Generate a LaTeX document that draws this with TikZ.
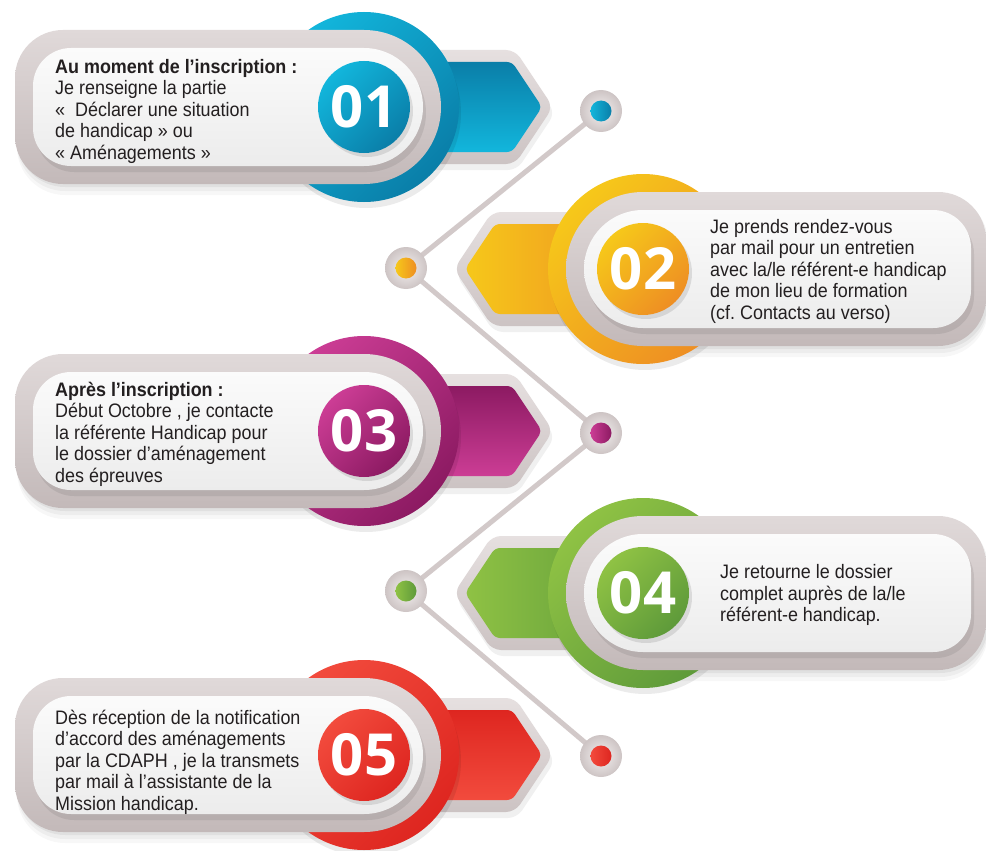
\documentclass[tikz,border=0pt]{standalone}
\usepackage{fontspec}
\setmainfont{Liberation Sans}[FakeStretch=0.92]
\newfontfamily\numfont{Open Sans}
\frenchspacing
\definecolor{grayA}{HTML}{E0D9D9}
\definecolor{grayB}{HTML}{C3B9B9}
\definecolor{tabA}{HTML}{E6E0E0}
\definecolor{tabB}{HTML}{CCC3C3}
\definecolor{whiteA}{HTML}{FBFBFB}
\definecolor{whiteB}{HTML}{ECECEC}
\definecolor{lineg}{HTML}{D2C9C9}
\definecolor{dotA}{HTML}{F4F1F1}
\definecolor{dotB}{HTML}{CDC4C4}
\definecolor{txtc}{HTML}{231F20}
\definecolor{blueL}{HTML}{12B6DC}
\definecolor{blueD}{HTML}{0A7EA8}
\definecolor{oranL}{HTML}{F6C81A}
\definecolor{oranD}{HTML}{EE8E23}
\definecolor{magL}{HTML}{CC3D95}
\definecolor{magD}{HTML}{8C1A62}
\definecolor{greL}{HTML}{8FC244}
\definecolor{greD}{HTML}{5E9A3A}
\definecolor{redL}{HTML}{F24B3D}
\definecolor{redD}{HTML}{DE2620}
\newcommand\grayLpath{(0,-77) arc[start angle=-90,end angle=90,radius=77] -- (-301,77) arc[start angle=90,end angle=180,radius=48] -- (-349,-29) arc[start angle=180,end angle=270,radius=48] -- cycle}
\newcommand\whiteLpath{(0,-59) arc[start angle=-90,end angle=90,radius=59] -- (-293,59) arc[start angle=90,end angle=180,radius=38] -- (-331,-21) arc[start angle=180,end angle=270,radius=38] -- cycle}
\newcommand\grayRpath{(0,-77) arc[start angle=270,end angle=90,radius=77] -- (295,77) arc[start angle=90,end angle=0,radius=48] -- (343,-29) arc[start angle=0,end angle=-90,radius=48] -- cycle}
\newcommand\whiteRpath{(0,-59) arc[start angle=270,end angle=90,radius=59] -- (290,59) arc[start angle=90,end angle=0,radius=38] -- (328,-21) arc[start angle=0,end angle=-90,radius=38] -- cycle}
\newcommand\itemL[3]{%
\begin{scope}[shift={(364,#1)}]
 \foreach \o/\op in {3/0.05,7/0.04,11/0.03}{\fill[black,opacity=\op,shift={(2,\o)}] \grayLpath;}
 \fill[black,opacity=0.06,shift={(2,6)},rounded corners=9] (0,-57) -- (151,-57) -- (189,0) -- (151,57) -- (0,57) -- cycle;
 \shade[top color=tabA,bottom color=tabB,rounded corners=9] (0,-57) -- (151,-57) -- (189,0) -- (151,57) -- (0,57) -- cycle;
 \shade[top color=#3,bottom color=#2,rounded corners=5] (0,-45) -- (148,-45) -- (178,0) -- (148,45) -- (0,45) -- cycle;
 \fill[black,opacity=0.08,shift={(2,6)}] (0,0) circle[radius=95];
 \shade[top color=#2,bottom color=#3,shading angle=45] (0,0) circle[radius=95];
 \shade[top color=grayA,bottom color=grayB] \grayLpath;
 \fill[black,opacity=0.08,shift={(3,6)}] \whiteLpath;
 \shade[top color=whiteA,bottom color=whiteB] \whiteLpath;
 \fill[black,opacity=0.10,shift={(3,4)}] (0,0) circle[radius=46];
 \shade[top color=#2,bottom color=#3,shading angle=45] (0,0) circle[radius=46];
\end{scope}}
\newcommand\itemR[3]{%
\begin{scope}[shift={(643,#1)}]
 \foreach \o/\op in {3/0.05,7/0.04,11/0.03}{\fill[black,opacity=\op,shift={(2,\o)}] \grayRpath;}
 \fill[black,opacity=0.06,shift={(2,6)},rounded corners=9] (0,-57) -- (-151,-57) -- (-189,0) -- (-151,57) -- (0,57) -- cycle;
 \shade[top color=tabA,bottom color=tabB,rounded corners=9] (0,-57) -- (-151,-57) -- (-189,0) -- (-151,57) -- (0,57) -- cycle;
 \shade[left color=#2,right color=#3,rounded corners=5] (0,-45) -- (-148,-45) -- (-178,0) -- (-148,45) -- (0,45) -- cycle;
 \fill[black,opacity=0.08,shift={(2,6)}] (0,0) circle[radius=95];
 \shade[top color=#2,bottom color=#3,shading angle=45] (0,0) circle[radius=95];
 \shade[top color=grayA,bottom color=grayB] \grayRpath;
 \fill[black,opacity=0.08,shift={(3,6)}] \whiteRpath;
 \shade[top color=whiteA,bottom color=whiteB] \whiteRpath;
 \fill[black,opacity=0.10,shift={(3,4)}] (0,0) circle[radius=46];
 \shade[top color=#2,bottom color=#3,shading angle=45] (0,0) circle[radius=46];
\end{scope}}
\tikzset{
  numtxt/.style={text=white,font=\numfont\bfseries\fontsize{58}{58}\selectfont,inner sep=0pt},
  bodytxt/.style={text=txtc,font=\fontsize{19.5}{21.5}\selectfont,align=left,anchor=west,inner sep=0pt},
  conn/.style={draw=lineg,line width=5pt},
  dotring/.style={circle,minimum size=42pt,inner sep=0pt,inner color=dotA,outer color=dotB},
  dotcore/.style={circle,minimum size=21pt,inner sep=0pt}
}
\begin{document}
\begin{tikzpicture}[x=1pt,y=-1pt]
\useasboundingbox (0,0) rectangle (986,851);
\fill[white] (0,0) rectangle (986,851);
% connector coordinates
\coordinate (c1) at (601,111);
\coordinate (c2) at (406,268);
\coordinate (c3) at (601,433);
\coordinate (c4) at (406,591);
\coordinate (c5) at (601,756);
\draw[conn] (c1) -- (c2) -- (c3) -- (c4) -- (c5);
% items
\itemL{107}{blueL}{blueD}
\itemR{269}{oranL}{oranD}
\itemL{431}{magL}{magD}
\itemR{593}{greL}{greD}
\itemL{755}{redL}{redD}
% numbers
\node[numtxt] (n1) at (364,107) {01};
\node[numtxt] (n2) at (643,269) {02};
\node[numtxt] (n3) at (364,431) {03};
\node[numtxt] (n4) at (643,593) {04};
\node[numtxt] (n5) at (364,755) {05};
% texts
\node[bodytxt] (t1) at (55,111) {\textbf{Au moment de l’inscription :}\\Je renseigne la partie\\«~~Déclarer une situation\\de handicap » ou\\« Aménagements »};
\node[bodytxt] (t2) at (710,271) {Je prends rendez-vous\\par mail pour un entretien\\avec la/le référent-e handicap\\de mon lieu de formation\\(cf. Contacts au verso)};
\node[bodytxt] (t3) at (55,434) {\textbf{Après l’inscription :}\\Début Octobre , je contacte\\la référente Handicap pour\\le dossier d’aménagement\\des épreuves};
\node[bodytxt] (t4) at (720,595) {Je retourne le dossier\\complet auprès de la/le\\référent-e handicap.};
\node[bodytxt] (t5) at (55,762) {Dès réception de la notification\\d’accord des aménagements\\par la CDAPH , je la transmets\\par mail à l’assistante de la\\Mission handicap.};
% dots
\node[dotring] (r1) at (c1) {};
\node[dotring] (r2) at (c2) {};
\node[dotring] (r3) at (c3) {};
\node[dotring] (r4) at (c4) {};
\node[dotring] (r5) at (c5) {};
\node[dotcore,left color=blueL,right color=blueD] (k1) at (c1) {};
\node[dotcore,left color=oranL,right color=oranD] (k2) at (c2) {};
\node[dotcore,left color=magL,right color=magD] (k3) at (c3) {};
\node[dotcore,left color=greL,right color=greD] (k4) at (c4) {};
\node[dotcore,left color=redL,right color=redD] (k5) at (c5) {};
\end{tikzpicture}
\end{document}
